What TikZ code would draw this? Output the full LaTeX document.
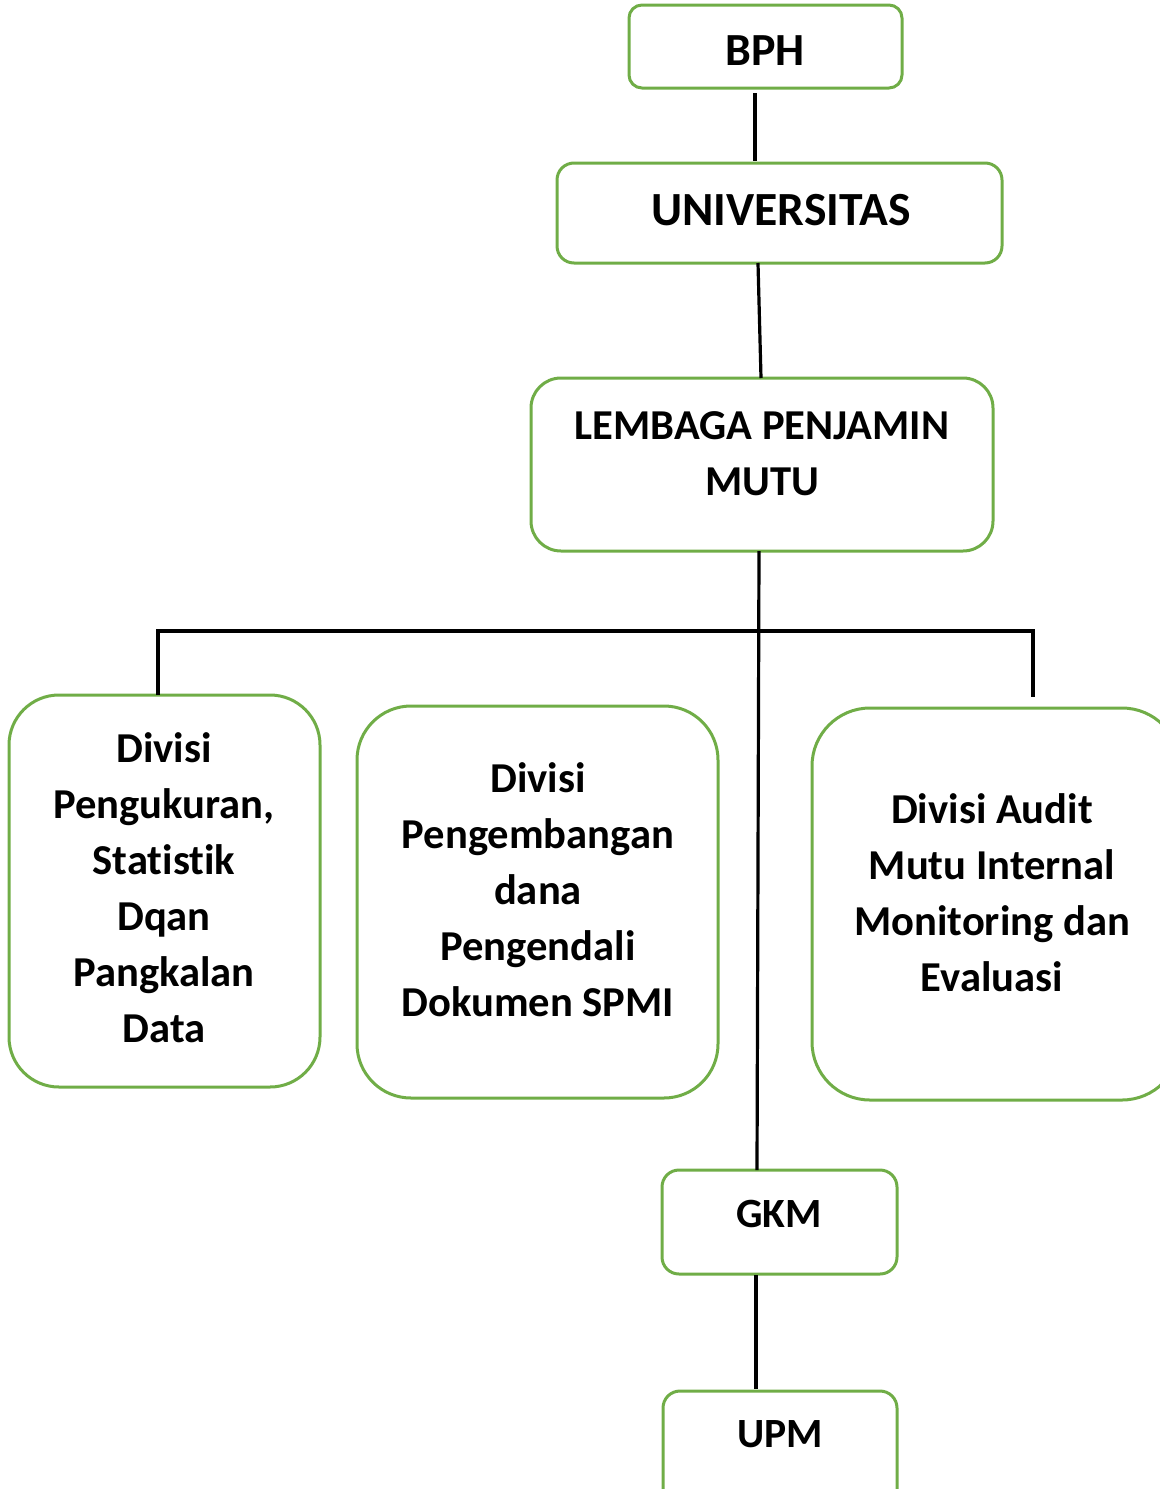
\documentclass[tikz,border=0pt]{standalone}
\usepackage{fontspec}
\setmainfont[Ligatures=NoCommon]{Carlito}
\usetikzlibrary{fit}
\definecolor{boxgreen}{HTML}{70AD47}
\tikzset{
  box/.style={draw=boxgreen, line width=1.5pt, rounded corners=#1, inner sep=0pt},
  lbl/.style={font=\bfseries\fontsize{#1}{28}\selectfont, align=center, anchor=base, inner sep=0pt},
  lbl/.default=21.3,
  conn/.style={draw=black, line width=1.6pt}
}
\begin{document}
\begin{tikzpicture}[x=0.5pt, y=-0.5pt]
\useasboundingbox (0,0) rectangle (1160,1489);
% boxes
\node[box=6.5pt, fit={(629,5)(902,88)}] (bph) {};
\node[box=8.5pt, fit={(557,163)(1002,263)}] (univ) {};
\node[box=15pt, fit={(531,378)(993,551)}] (lpm) {};
\node[box=25pt, fit={(9,695)(320,1087)}] (dv1) {};
\node[box=27pt, fit={(357,706)(718,1098)}] (dv2) {};
\node[box=29pt, fit={(812,708)(1180,1100)}] (dv3) {};
\node[box=8.5pt, fit={(662,1170)(897,1274)}] (gkm) {};
\node[box=8.5pt, fit={(663,1391)(897,1530)}] (upm) {};
% labels (base anchor = baseline of last line)
\node[lbl=23] (tbph) at (765,65) {BPH};
\node[lbl=23.8] (tuniv) at (781,225) {UNIVERSITAS};
\node[lbl] (tlpm) at (762,495) {LEMBAGA PENJAMIN\\MUTU};
\node[lbl] (tdv1) at (164,1042) {Divisi\\Pengukuran,\\Statistik\\Dqan\\Pangkalan\\Data};
\node[lbl] (tdv2) at (538,1016) {Divisi\\Pengembangan\\dana\\Pengendali\\Dokumen SPMI};
\node[lbl] (tdv3) at (992,991) {Divisi Audit\\Mutu Internal\\Monitoring dan\\Evaluasi};
\node[lbl=20.8] (tgkm) at (779,1227) {GKM};
\node[lbl=20.8] (tupm) at (780,1447) {UPM};
% connector coordinates
\coordinate (bpTop) at (755,93);
\coordinate (bpBot) at (755,161);
\coordinate (unBot) at (758,263);
\coordinate (lpTop) at (761,378);
\coordinate (lpBot) at (759,551);
\coordinate (gkTop) at (757,1170);
\coordinate (busL) at (158,631);
\coordinate (busR) at (1033,631);
\coordinate (dropL) at (158,695);
\coordinate (dropR) at (1033,697);
\coordinate (gkBot) at (756,1275);
\coordinate (upTop) at (756,1389);
% connectors
\draw[conn] (bpTop) -- (bpBot);
\draw[conn] (unBot) -- (lpTop);
\draw[conn] (lpBot) -- (gkTop);
\draw[conn] (dropL) -- (busL) -- (busR) -- (dropR);
\draw[conn] (gkBot) -- (upTop);
\end{tikzpicture}
\end{document}
